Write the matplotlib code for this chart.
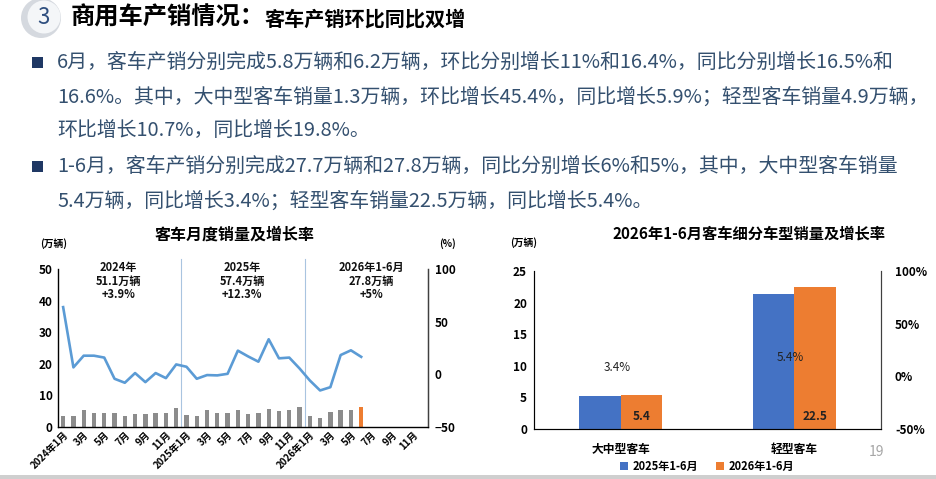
import numpy as np
import matplotlib
matplotlib.use("Agg")
import matplotlib.pyplot as plt
import matplotlib.patches as patches
from matplotlib.ticker import FuncFormatter

plt.rcParams['font.family'] = ['Noto Sans CJK SC', 'DejaVu Sans']

# ---- data: left chart (monthly bus sales, 万辆 / yoy growth, %) ----
years = ["2024", "2025", "2026"]
month_labels = []
for y in years:
    for m in range(1, 13):
        month_labels.append(f"{y}年{m}月" if m == 1 else f"{m}月")

sales = [3.4, 3.4, 5.3, 4.4, 4.4, 4.4, 3.4, 4.0, 4.0, 4.4, 4.4, 6.0,
         3.7, 3.4, 5.3, 4.4, 4.4, 5.3, 4.0, 4.4, 5.6, 5.0, 5.3, 6.3,
         3.4, 2.8, 4.6, 5.3, 5.3, 6.2]
growth = [63.8, 6.6, 17.7, 17.7, 15.9, -4.2, -8.0, 1.2, -7.4, 1.2, -3.6, 9.4,
          7.2, -4.2, -0.7, -1.0, 0.5, 22.5, 17.0, 12.0, 33.3, 15.2, 15.9, 5.6,
          -5.8, -15.3, -12.2, 18.3, 22.8, 16.6]
year_notes = ["2024年\n51.1万辆\n+3.9%", "2025年\n57.4万辆\n+12.3%", "2026年1-6月\n27.8万辆\n+5%"]

# ---- data: right chart (segment sales Jan-Jun) ----
segments = ["大中型客车", "轻型客车"]
sales_2025 = [5.2, 21.35]
sales_2026 = [5.4, 22.5]
seg_growth = ["3.4%", "5.4%"]
series_names = ["2025年1-6月", "2026年1-6月"]

W, H = 936, 479
fig = plt.figure(figsize=(W / 100, H / 100), dpi=100)
fig.patch.set_facecolor("white")


def fx(x):
    return x / W


def fy(y):
    return 1 - y / H


# ---- header ----
fig.patches.append(patches.Ellipse((fx(41), fy(18)), 40 / W, 40 / H, transform=fig.transFigure,
                                   facecolor="#d5d9df", edgecolor="none"))
fig.patches.append(patches.Ellipse((fx(44), fy(17)), 33 / W, 33 / H, transform=fig.transFigure,
                                   facecolor="#f4f6f8", edgecolor="none"))
fig.text(fx(43), fy(18), "3", fontsize=16, color="#2f4f7f", ha="center", va="center")
fig.text(fx(71), fy(18), "商用车产销情况：", fontsize=17.5, weight="bold", color="black", va="center")
fig.text(fx(264), fy(19), "客车产销环比同比双增", fontsize=14.5, weight="bold", color="black", va="center")

body_color = "#34506f"
lines = [
    (63, True, "6月，客车产销分别完成5.8万辆和6.2万辆，环比分别增长11%和16.4%，同比分别增长16.5%和"),
    (98, False, "16.6%。其中，大中型客车销量1.3万辆，环比增长45.4%，同比增长5.9%；轻型客车销量4.9万辆，"),
    (131, False, "环比增长10.7%，同比增长19.8%。"),
    (167, True, "1-6月，客车产销分别完成27.7万辆和27.8万辆，同比分别增长6%和5%，其中，大中型客车销量"),
    (202, False, "5.4万辆，同比增长3.4%；轻型客车销量22.5万辆，同比增长5.4%。"),
]
for ypix, bullet, txt in lines:
    if bullet:
        fig.patches.append(patches.Rectangle((fx(32), fy(ypix + 5)), 11 / W, 11 / H,
                                             transform=fig.transFigure, facecolor="#1f3864",
                                             edgecolor="none"))
    fig.text(fx(57), fy(ypix), txt, fontsize=14.35, color=body_color, va="center")

# ---- left chart ----
ax1 = fig.add_axes([fx(58), fy(427), (428 - 58) / W, (427 - 269) / H])
x = np.arange(len(month_labels))
bar_colors = ["#8c8c8c"] * (len(sales) - 1) + ["#ed7d31"]
ax1.bar(x[:len(sales)], sales, width=0.42, color=bar_colors, zorder=2)
ax1.set_xlim(-0.5, len(month_labels) - 0.5)
ax1.set_ylim(0, 50)
ax1.set_yticks([0, 10, 20, 30, 40, 50])
ax1.set_xticks(x[::2])
ax1.set_xticklabels(month_labels[::2], rotation=45, ha="right", rotation_mode="anchor",
                    fontsize=7, weight="bold")
ax1.tick_params(axis="y", length=0, labelsize=8.5, pad=4)
ax1.tick_params(axis="x", length=0, pad=2)
for lbl in ax1.get_yticklabels():
    lbl.set_fontweight("bold")
ax1.spines["top"].set_visible(False)
for s in ["left", "bottom", "right"]:
    ax1.spines[s].set_color("#404040")
    ax1.spines[s].set_linewidth(1.0)

for sep in [11.5, 23.5]:
    ax1.axvline(sep, ymin=0, ymax=1.065, color="#a9c4e0", lw=0.8, clip_on=False, zorder=1)

for i, note in enumerate(year_notes):
    ax1.text(i * 12 + 5.4 + (0.6 if i == 2 else 0), 52.5, note, ha="center", va="top",
             fontsize=8, weight="semibold", linespacing=1.05, color="#111111")

ax1b = ax1.twinx()
ax1b.plot(x[:len(growth)], growth, color="#5b9bd5", lw=1.9, zorder=3)
ax1b.set_ylim(-50, 100)
ax1b.set_yticks([-50, 0, 50, 100])
ax1b.tick_params(axis="y", length=0, labelsize=8.5, pad=5)
for lbl in ax1b.get_yticklabels():
    lbl.set_fontweight("bold")
ax1b.spines["top"].set_visible(False)
ax1b.spines["right"].set_color("#404040")

fig.text(fx(235), fy(235), "客车月度销量及增长率", fontsize=11.5, weight="bold", ha="center", va="center")
fig.text(fx(54), fy(244), "(万辆)", fontsize=7, weight="bold", ha="center", va="center")
fig.text(fx(447), fy(244), "(%)", fontsize=7, weight="bold", ha="center", va="center")

# ---- right chart ----
ax2 = fig.add_axes([fx(534), fy(429), (881 - 534) / W, (429 - 271) / H])
xs = np.arange(len(segments))
bw = 0.24
ax2.bar(xs - bw / 2, sales_2025, bw, color="#4472c4", label=series_names[0], zorder=2)
b26 = ax2.bar(xs + bw / 2, sales_2026, bw, color="#ed7d31", label=series_names[1], zorder=2)
ax2.set_xlim(-0.5, 1.5)
ax2.set_ylim(0, 25)
ax2.set_yticks([0, 5, 10, 15, 20, 25])
ax2.set_xticks(xs)
ax2.set_xticklabels(segments, fontsize=8.5, weight="bold")
ax2.tick_params(axis="both", length=0, labelsize=8.5, pad=5)
ax2.tick_params(axis="x", pad=10)
for lbl in ax2.get_yticklabels():
    lbl.set_fontweight("bold")
ax2.spines["top"].set_visible(False)
for s in ["left", "bottom", "right"]:
    ax2.spines[s].set_color("#404040")

for rect, v in zip(b26, sales_2026):
    ax2.text(rect.get_x() + rect.get_width() / 2, 1.9, f"{v}", ha="center", va="center",
             fontsize=8.5, weight="bold", color="#222222")

ax2b = ax2.twinx()
ax2b.set_ylim(-50, 100)
ax2b.set_yticks([-50, 0, 50, 100])
ax2b.yaxis.set_major_formatter(FuncFormatter(lambda v, p: f"{v:.0f}%"))
ax2b.tick_params(axis="y", length=0, labelsize=8.5, pad=10)
for lbl in ax2b.get_yticklabels():
    lbl.set_fontweight("bold")
ax2b.spines["top"].set_visible(False)
ax2b.spines["right"].set_color("#404040")
for xi, g, ly in zip(xs, seg_growth, [8, 18.3]):
    ax2b.text(xi - 0.02, ly, g, ha="center", va="center", fontsize=8.5, color="#222222")

fig.text(fx(749), fy(234), "2026年1-6月客车细分车型销量及增长率", fontsize=11, weight="bold",
         ha="center", va="center")
fig.text(fx(524), fy(243), "(万辆)", fontsize=7, weight="bold", ha="center", va="center")

handles, labels = ax2.get_legend_handles_labels()
fig.legend(handles, labels, loc="center", bbox_to_anchor=(fx(707), fy(466)), ncol=2, frameon=False,
           prop={"weight": "bold", "size": 8}, handlelength=0.7, handleheight=0.7,
           handletextpad=0.4, columnspacing=1.6)

fig.text(fx(876), fy(452), "19", fontsize=10, color="#a6a6a6", ha="center", va="center")

# bottom grey strip
fig.patches.append(patches.Rectangle((0, 0), 1, 4 / H, transform=fig.transFigure,
                                     facecolor="#cfcfcf", edgecolor="none"))

fig.savefig("out.png", dpi=100)
